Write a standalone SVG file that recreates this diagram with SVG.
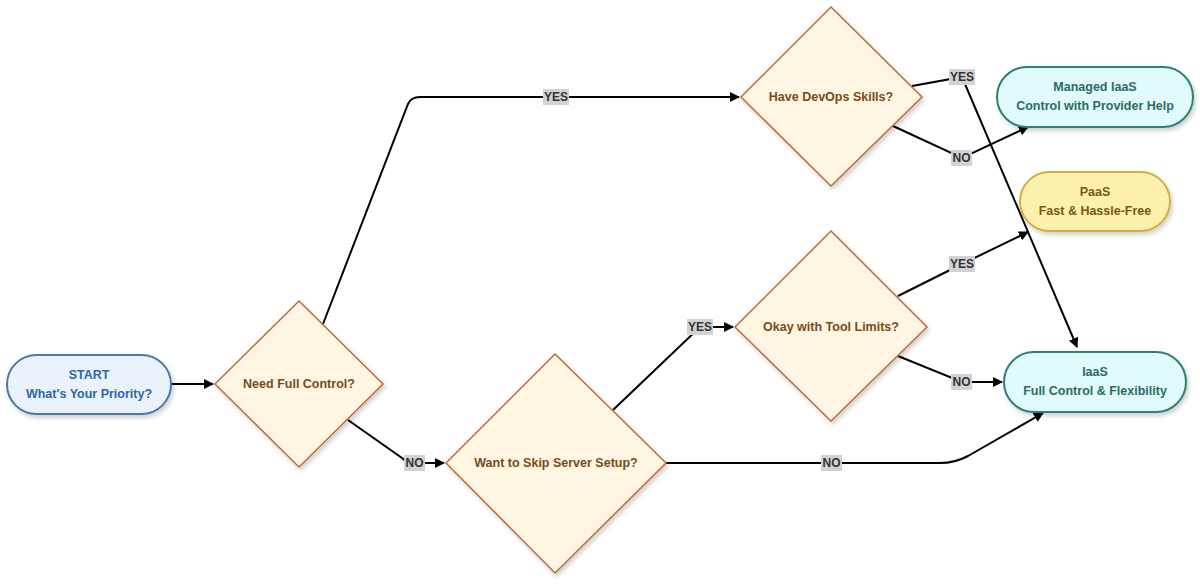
<svg xmlns="http://www.w3.org/2000/svg" width="1200" height="584" viewBox="0 0 1200 584">
<defs>
<filter id="sh" x="-10%" y="-10%" width="130%" height="130%">
<feDropShadow dx="2" dy="3" stdDeviation="2" flood-color="#000" flood-opacity="0.18"/>
</filter>
<marker id="arr" markerWidth="10" markerHeight="10" refX="9" refY="5" orient="auto" markerUnits="userSpaceOnUse">
<path d="M0,0 L10,5 L0,10 Z" fill="#000"/>
</marker>
</defs>
<style>
text{font-family:"Liberation Sans",Arial,sans-serif;font-weight:bold;font-size:12.5px;text-anchor:middle;dominant-baseline:central}
.dia{fill:#fef6e3;stroke:#c0693a;stroke-width:1.5;filter:url(#sh)}
.dt{fill:#7a4a1a}
.start{fill:#eaf2fc;stroke:#4a78b0;stroke-width:2;filter:url(#sh)}
.st{fill:#2f67a5}
.cyan{fill:#e1fafa;stroke:#2f8077;stroke-width:2;filter:url(#sh)}
.ct{fill:#2d6a68}
.yel{fill:#fdf1ad;stroke:#d2ae3e;stroke-width:2;filter:url(#sh)}
.yt{fill:#7a561a}
.edge{fill:none;stroke:#000;stroke-width:2}
.lb{fill:#d2d2d4}
.lt{fill:#333;font-size:12px}
</style>
<rect width="1200" height="584" fill="#fff"/>
<g id="connectors">
<path class="edge" d="M171,384 L213,384" marker-end="url(#arr)"/>
<path class="edge" d="M323,324 L408,104 Q411,97 420,97 L739,97" marker-end="url(#arr)"/>
<path class="edge" d="M348,420 L402,458 Q407,463 414,463 L444,463" marker-end="url(#arr)"/>
<path class="edge" d="M666,463 L940,463 Q955,463 968,456 L1043,413" marker-end="url(#arr)"/>
<path class="edge" d="M613,410 L700,327 L733,327" marker-end="url(#arr)"/>
<path class="edge" d="M898,296 L962,264 L1028,232" marker-end="url(#arr)"/>
<path class="edge" d="M898,356 L962,382 L1002,382" marker-end="url(#arr)"/>
<path class="edge" d="M912,86 L962,77 L1077,347" marker-end="url(#arr)"/>
<path class="edge" d="M893,126 L962,158 L1028,127" marker-end="url(#arr)"/>
<rect class="lb" x="543" y="89" width="26" height="16"/><text class="lt" x="556" y="97">YES</text>
<rect class="lb" x="404" y="455" width="21" height="16"/><text class="lt" x="414.5" y="463">NO</text>
<rect class="lb" x="821" y="455" width="21" height="16"/><text class="lt" x="831.5" y="463">NO</text>
<rect class="lb" x="687" y="319" width="26" height="16"/><text class="lt" x="700" y="327">YES</text>
<rect class="lb" x="949" y="256" width="26" height="16"/><text class="lt" x="962" y="264">YES</text>
<rect class="lb" x="951" y="374" width="21" height="16"/><text class="lt" x="961.5" y="382">NO</text>
<rect class="lb" x="949" y="69" width="26" height="16"/><text class="lt" x="962" y="77">YES</text>
<rect class="lb" x="951" y="150" width="21" height="16"/><text class="lt" x="961.5" y="158">NO</text>
</g>
<g id="start">
<rect class="start" x="7" y="355" width="164" height="59" rx="29.5"/>
<text class="st" x="89" y="375">START</text>
<text class="st" x="89" y="394">What's Your Priority?</text>
</g>
<g id="need-full-control">
<path class="dia" d="M299,301 L383,384 L299,467 L215,384 Z"/>
<text class="dt" x="299" y="384">Need Full Control?</text>
</g>
<g id="skip-server-setup">
<path class="dia" d="M555,354 L666,463 L555,573 L446,463 Z"/>
<text class="dt" x="556" y="463">Want to Skip Server Setup?</text>
</g>
<g id="devops-skills">
<path class="dia" d="M831,7 L922,97 L831,186 L741,97 Z"/>
<text class="dt" x="831" y="97">Have DevOps Skills?</text>
</g>
<g id="tool-limits">
<path class="dia" d="M831,231 L927,327 L831,421 L735,327 Z"/>
<text class="dt" x="831" y="327">Okay with Tool Limits?</text>
</g>
<g id="managed-iaas">
<rect class="cyan" x="997" y="67" width="196" height="60" rx="30"/>
<text class="ct" x="1095" y="87">Managed IaaS</text>
<text class="ct" x="1095" y="106">Control with Provider Help</text>
</g>
<g id="paas">
<rect class="yel" x="1020" y="172" width="150" height="59" rx="29.5"/>
<text class="yt" x="1095" y="192">PaaS</text>
<text class="yt" x="1095" y="211">Fast &amp; Hassle-Free</text>
</g>
<g id="iaas">
<rect class="cyan" x="1004" y="352" width="182" height="60" rx="30"/>
<text class="ct" x="1095" y="372">IaaS</text>
<text class="ct" x="1095" y="391">Full Control &amp; Flexibility</text>
</g>
</svg>
